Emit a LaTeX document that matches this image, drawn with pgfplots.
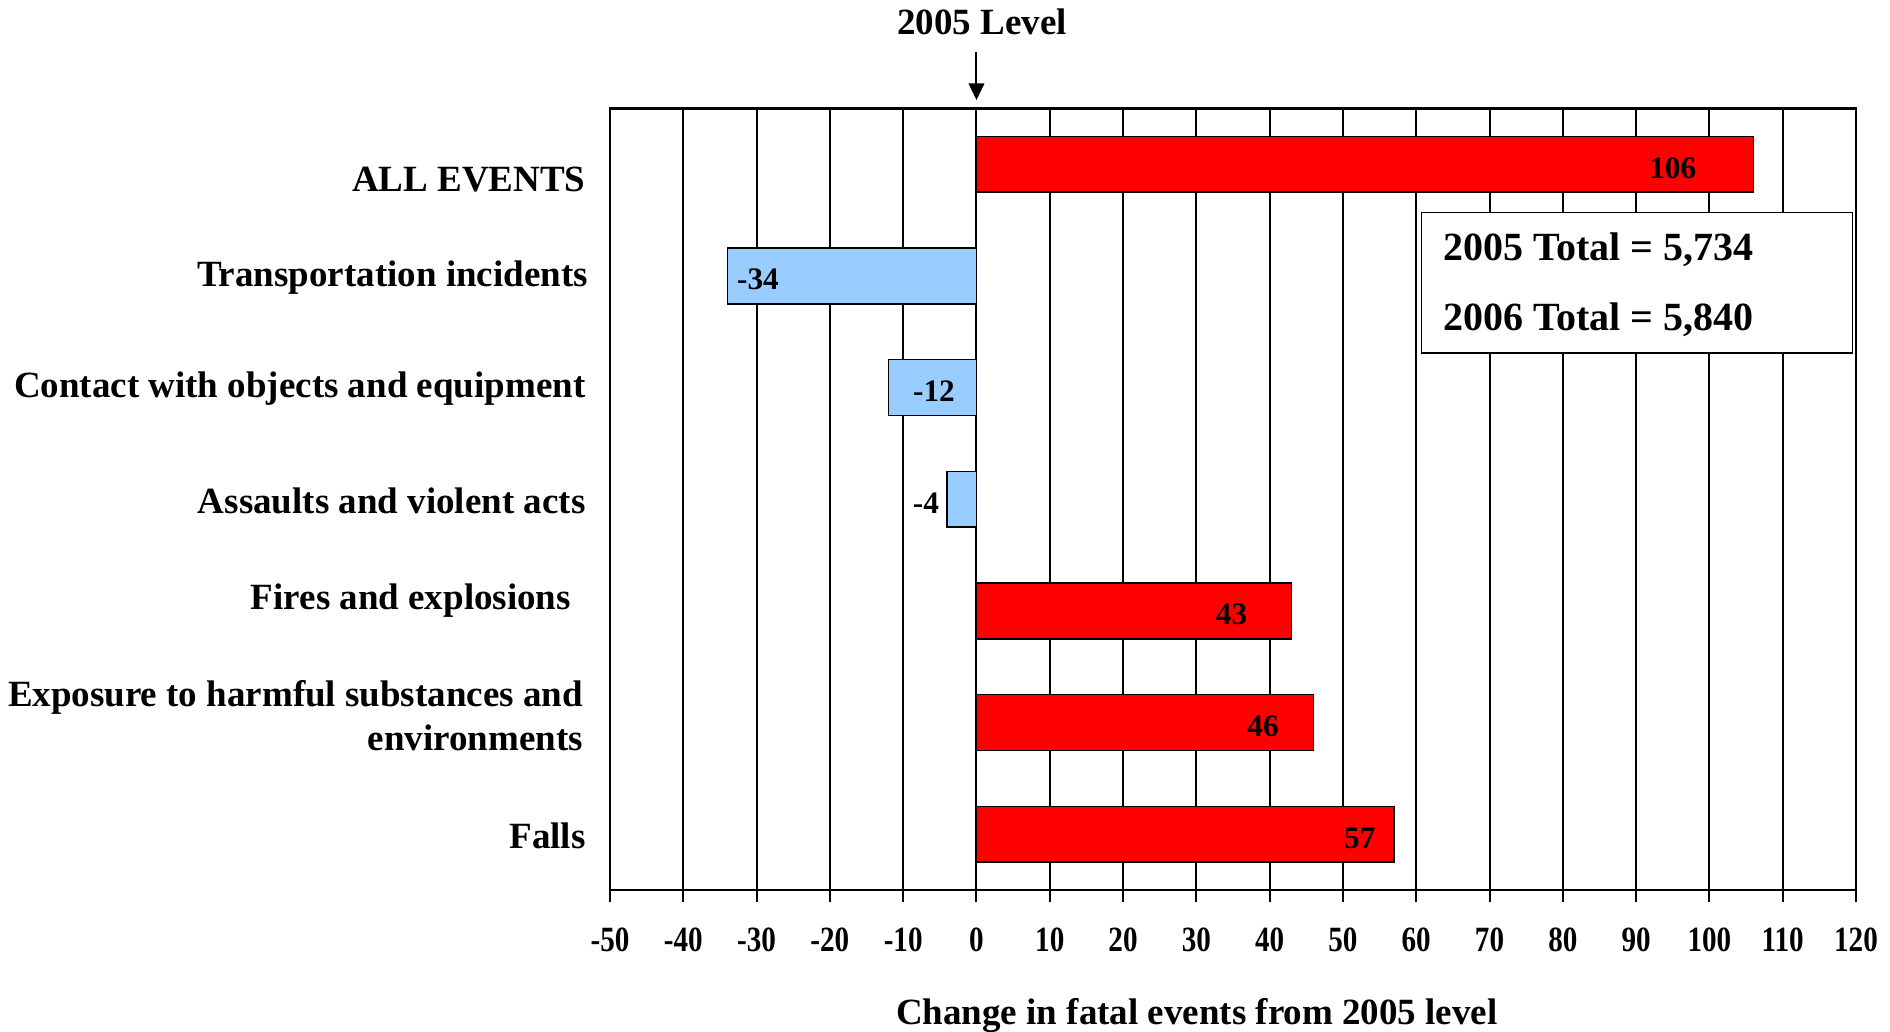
\documentclass[border=0pt]{standalone}
\usepackage{graphicx}
\usepackage{pgfplots}
\pgfplotsset{compat=1.18}
\usepackage{fontspec}
\setmainfont{Liberation Serif}
\usetikzlibrary{arrows.meta}
\definecolor{barred}{RGB}{255,0,0}
\definecolor{barblue}{RGB}{153,204,255}
\begin{document}
\begin{tikzpicture}
\path[use as bounding box] (-244pt,-56.8pt) rectangle (512pt,356pt);
\begin{axis}[
  at={(0,0)}, anchor=south west,
  scale only axis, width=498.4pt, height=312.6pt,
  xbar, bar shift=0pt, bar width=0.5,
  xmin=-50, xmax=120, ymin=-0.5, ymax=6.5,
  xtick={-50,-40,...,120},
  ytick={0,1,2,3,4,5,6},
  yticklabels={},
  xticklabel={\scalebox{0.82}[1]{\bfseries\pgfmathprintnumber[assume math mode=true]{\tick}}},
  xticklabel style={font=\fontsize{14.2}{15}\selectfont\bfseries, inner sep=0pt, anchor=center, yshift=-15.3pt},
  /pgf/number format/assume math mode=true,
  typeset ticklabels with strut=false,
  xtick pos=bottom, tick align=outside, major tick length=4.8pt,
  ytick style={draw=none},
  xtick style={line width=0.8pt, black},
  xmajorgrids, grid style={line width=0.8pt, black},
  axis line style={line width=1.1pt},
  axis x line*=bottom,
  clip=false,
  xlabel={Change in fatal events from 2005 level},
  xlabel style={font=\fontsize{14.8}{17}\selectfont\bfseries, at={(axis description cs:0.471,0)}, anchor=center, yshift=-50.3pt},
]
\addplot[fill=barred, draw=black, line width=0.6pt] coordinates {(106,6) (0,5) (0,4) (0,3) (43,2) (46,1) (57,0)};
\addplot[fill=barblue, draw=black, line width=0.6pt] coordinates {(0,6) (-34,5) (-12,4) (-4,3) (0,2) (0,1) (0,0)};
% frame: left, top, right
\draw[line width=1.1pt] (axis cs:-50,-0.5) -- (axis cs:-50,6.5) -- (axis cs:120,6.5) -- (axis cs:120,-0.5);
% category labels
\begin{scope}[every node/.style={font=\fontsize{14.8}{17.5}\selectfont\bfseries, inner sep=0pt, anchor=east, align=right}]
\node at ([xshift=-9.6pt, yshift=-6.2pt]axis cs:-50,6) {ALL EVENTS};
\node at ([xshift=-8.6pt, yshift=-0.5pt]axis cs:-50,5) {Transportation incidents};
\node at ([xshift=-9.6pt, yshift=-0.5pt]axis cs:-50,4) {Contact with objects and equipment};
\node at ([xshift=-9.6pt, yshift=-0.5pt]axis cs:-50,3) {Assaults and violent acts};
\node at ([xshift=-15.4pt, yshift=4.3pt]axis cs:-50,2) {Fires and explosions};
\node at ([xshift=-10.6pt, yshift=2.9pt]axis cs:-50,1) {Exposure to harmful substances and\\environments};
\node at ([xshift=-9.6pt, yshift=-0.5pt]axis cs:-50,0) {Falls};
\end{scope}
% value labels
\begin{scope}[every node/.style={font=\fontsize{12.5}{14}\selectfont\bfseries, inner sep=0pt, yshift=-1.5pt}]
\node at (axis cs:95.0,6) {106};
\node at (axis cs:-29.8,5) {-34};
\node at (axis cs:-5.8,4) {-12};
\node at (axis cs:-6.9,3) {-4};
\node at (axis cs:34.8,2) {43};
\node at (axis cs:39.1,1) {46};
\node at (axis cs:52.3,0) {57};
\end{scope}
% totals box
\draw[fill=white, draw=black, line width=0.6pt] (axis cs:60.7,5.57) rectangle (axis cs:119.5,4.31);
\node[anchor=west, inner sep=0pt, font=\fontsize{16}{18}\selectfont\bfseries] at (axis cs:63.6,5.236) {2005 Total = 5,734};
\node[anchor=west, inner sep=0pt, font=\fontsize{16}{18}\selectfont\bfseries] at (axis cs:63.6,4.61) {2006 Total = 5,840};
% 2005 level title and arrow
\node[font=\fontsize{14.8}{17}\selectfont\bfseries, inner sep=0pt] at ([xshift=2.2pt,yshift=34.7pt]axis cs:0,6.5) {2005 Level};
\draw[line width=0.8pt, -{Triangle[length=6.7pt,width=6.3pt]}] ([yshift=22.6pt]axis cs:0,6.5) -- ([yshift=3.4pt]axis cs:0,6.5);
\end{axis}
\end{tikzpicture}
\end{document}
